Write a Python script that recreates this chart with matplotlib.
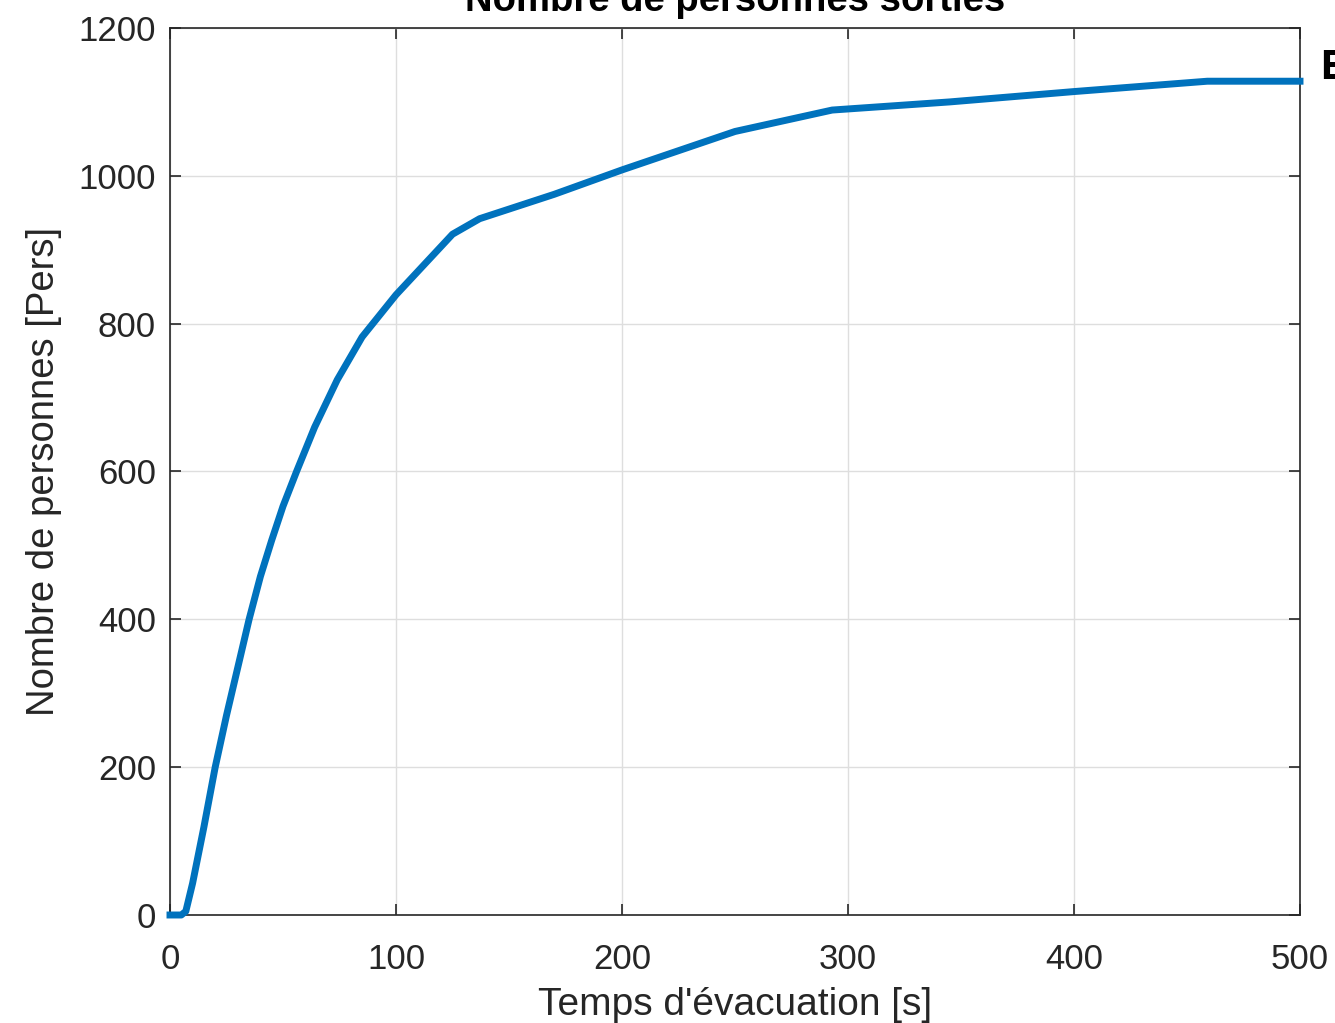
import matplotlib
matplotlib.use("Agg")
import matplotlib.pyplot as plt

# Data
temps = [0, 5, 7, 10, 15, 20, 25, 30, 35, 40, 45, 50, 56, 64, 74, 85, 100, 125, 137, 170, 200, 250, 293, 345, 400, 459, 500]
personnes = [0, 0, 5, 43, 119, 200, 270, 335, 400, 458, 507, 553, 600, 660, 724, 782, 839, 921, 942, 975, 1008, 1060, 1089, 1100, 1114, 1128, 1128]
xticks = [0, 100, 200, 300, 400, 500]
yticks = [0, 200, 400, 600, 800, 1000, 1200]

plt.rcParams['font.family'] = ['Liberation Sans', 'DejaVu Sans']

W, H = 1335, 1023
fig = plt.figure(figsize=(W / 100, H / 100), dpi=100)
ax = fig.add_axes([170 / W, 1 - 915 / H, (1300 - 170) / W, (915 - 28) / H])

ax.plot(temps, personnes, color='#0072BD', linewidth=5.0, clip_on=False, zorder=3)

ax.set_xlim(0, 500)
ax.set_ylim(0, 1200)
ax.set_xticks(xticks)
ax.set_yticks(yticks)
ax.set_xticklabels([str(v) for v in xticks])
ax.set_yticklabels([str(v) for v in yticks])

ax.grid(True, color='#dedede', linewidth=1.0)
ax.set_axisbelow(True)
for s in ax.spines.values():
    s.set_color('#262626')
    s.set_linewidth(1.2)
ax.tick_params(direction='in', length=8, width=1.2, colors='#262626',
               labelsize=25, top=True, right=True, pad=10)
ax.tick_params(axis='x', pad=20)

ax.set_xlabel("Temps d'évacuation [s]", fontsize=28, color='#262626', labelpad=8)
ax.set_ylabel("Nombre de personnes [Pers]", fontsize=27.5, color='#262626', labelpad=12)

fig.text(735 / W, 1 - 11 / H, "Nombre de personnes sorties", ha='center', va='baseline',
         fontsize=27.5, fontweight='bold', color='black')
fig.text(1320 / W, 1 - 79 / H, "E", ha='left', va='baseline',
         fontsize=31, fontweight='bold', color='black')

fig.savefig("out.png", dpi=100)
